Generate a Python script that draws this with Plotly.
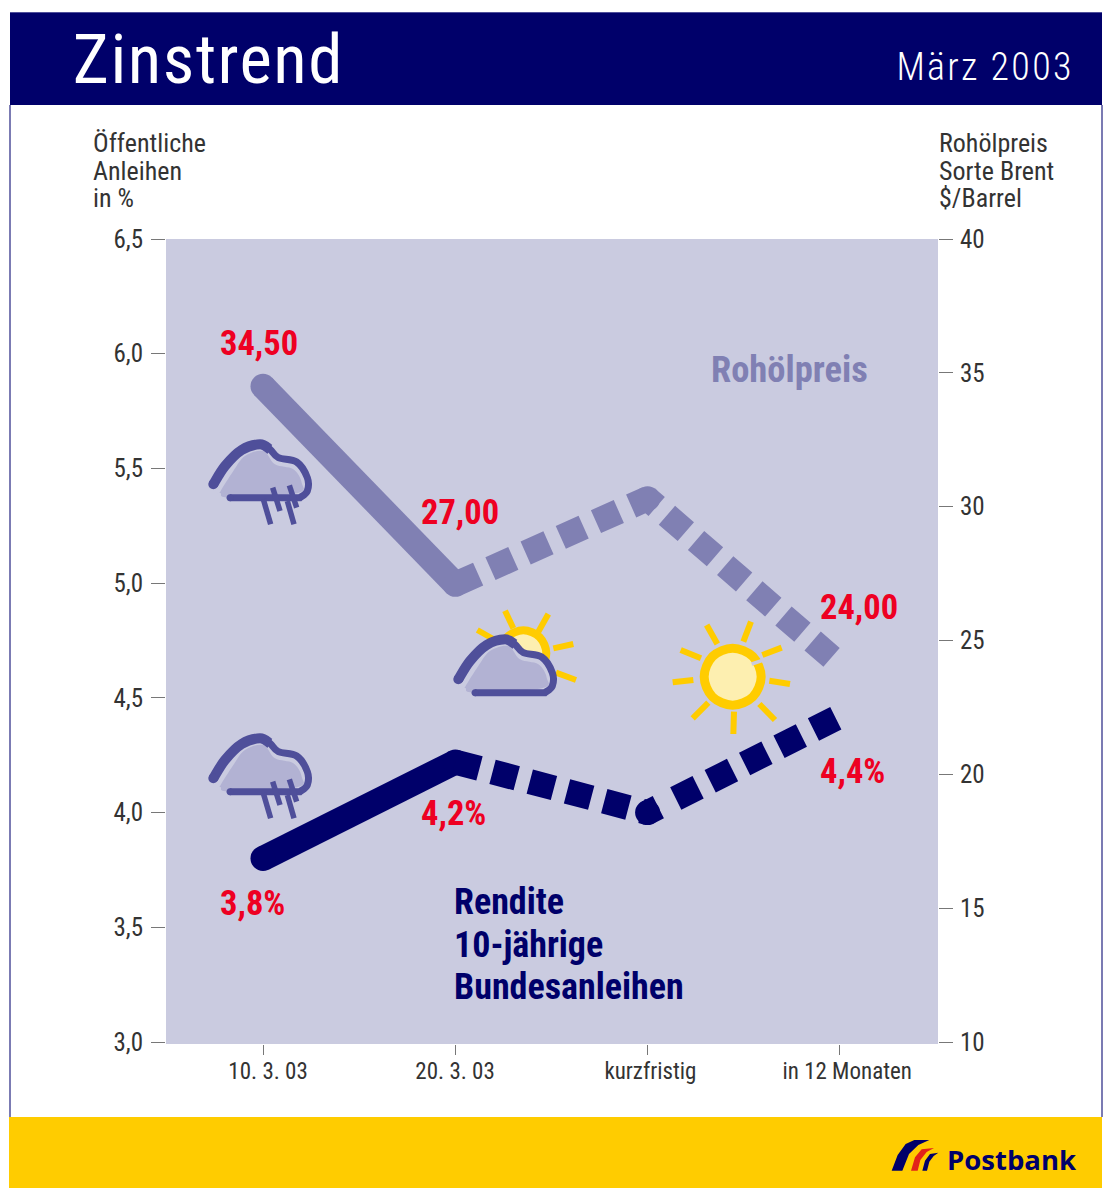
import plotly.graph_objects as go

# ---------- data ----------
categories = ["10. 3. 03", "20. 3. 03", "kurzfristig", "in 12 Monaten"]
category_pos = [0, 1, 2, 3]
yield_pct = [3.80, 4.22, 4.00, 4.42]
brent_usd = [34.5, 27.1, 30.3, 24.1]
yield_labels = ["3,8%", "4,2%", "4,4%"]
brent_labels = ["34,50", "27,00", "24,00"]
left_ticks = [3.0, 3.5, 4.0, 4.5, 5.0, 5.5, 6.0, 6.5]
right_ticks = [10, 15, 20, 25, 30, 35, 40]

# ---------- style ----------
W, H = 1115, 1200
L, R, T, B = 166, 938, 239, 1044
NAVY = "#00006a"
CRUDE = "#8080b3"
BG = "#cacbe0"
YEL = "#ffcc00"
PALE = "#fdefb0"
ICON = "#4f4f9a"
CLOUD = "#b2b2d3"
RED = "#ee0022"
TXT = "#333333"
FONT = "Roboto"
LW = 25


def px(x):
    return (x - L) / (R - L)


def py(y):
    return (B - y) / (B - T)


def smooth(points, close=False):
    """Catmull-Rom through pixel points -> SVG path in paper coordinates."""
    p = [(px(a), py(b)) for a, b in points]
    n = len(p)
    d = f"M{p[0][0]:.5f},{p[0][1]:.5f}"
    segs = n if close else n - 1
    for i in range(segs):
        p0 = p[(i - 1) % n] if (close or i > 0) else p[i]
        p1, p2 = p[i % n], p[(i + 1) % n]
        p3 = p[(i + 2) % n] if (close or i + 2 < n) else p2
        c1 = (p1[0] + (p2[0] - p0[0]) / 6, p1[1] + (p2[1] - p0[1]) / 6)
        c2 = (p2[0] - (p3[0] - p1[0]) / 6, p2[1] - (p3[1] - p1[1]) / 6)
        d += f" C{c1[0]:.5f},{c1[1]:.5f} {c2[0]:.5f},{c2[1]:.5f} {p2[0]:.5f},{p2[1]:.5f}"
    return d + (" Z" if close else "")


shapes = []


def rect(x0, y0, x1, y1, color):
    shapes.append(dict(type="rect", xref="paper", yref="paper", x0=px(x0), x1=px(x1),
                       y0=py(y0), y1=py(y1), fillcolor=color, line_width=0, layer="above"))


def seg(x0, y0, x1, y1, color, w):
    shapes.append(dict(type="line", xref="paper", yref="paper", x0=px(x0), x1=px(x1),
                       y0=py(y0), y1=py(y1), line=dict(color=color, width=w), layer="above"))


def dot(cx, cy, r, fill, line=None, w=0):
    shapes.append(dict(type="path", xref="paper", yref="paper", layer="above",
                       path=smooth([(cx + r, cy), (cx + r * .7071, cy + r * .7071), (cx, cy + r),
                                    (cx - r * .7071, cy + r * .7071), (cx - r, cy),
                                    (cx - r * .7071, cy - r * .7071), (cx, cy - r),
                                    (cx + r * .7071, cy - r * .7071)], close=True),
                       fillcolor=fill, line=dict(color=line or fill, width=w)))


def cloud(dx, dy, rain):
    t = lambda u, v: (200 + u / 3 + dx, 730 + v / 3 + dy)
    outline = [(40, 145), (75, 90), (125, 42), (180, 25), (210, 40), (235, 65), (290, 78),
               (322, 125), (322, 165), (300, 185), (90, 185)]
    body = [(62, 165), (100, 105), (135, 60), (190, 45), (225, 85), (280, 100), (305, 140),
            (290, 172), (90, 185), (62, 172)]
    shapes.append(dict(type="path", xref="paper", yref="paper", layer="above",
                       path=smooth([t(*q) for q in outline], close=True),
                       fillcolor=BG, line_width=0))
    shapes.append(dict(type="path", xref="paper", yref="paper", layer="above",
                       path=smooth([t(*q) for q in body], close=True),
                       fillcolor=CLOUD, line_width=0))
    shapes.append(dict(type="path", xref="paper", yref="paper", layer="above",
                       path=smooth([t(*q) for q in outline[:10]]) +
                       f" L{px(t(90, 185)[0]):.5f},{py(t(90, 185)[1]):.5f}",
                       line=dict(color=ICON, width=7)))
    shapes.append(dict(type="path", xref="paper", yref="paper", layer="above",
                       path=smooth([t(*q) for q in outline[:5]]),
                       line=dict(color=ICON, width=10)))
    dot(*t(40, 145), 5, ICON)
    dot(*t(90, 185), 3.5, ICON)
    if rain:
        for a, b, c, d in [(218, 155, 240, 225), (268, 148, 290, 215),
                           (190, 190, 212, 265), (262, 195, 282, 265)]:
            seg(*t(a, b), *t(c, d), ICON, 5.5)


# frame, header, footer
rect(10, 12, 1102, 105, NAVY)
seg(10, 105, 10, 1117, ICON, 1.5)
seg(1102, 105, 1102, 1117, ICON, 1.5)
seg(10, 12.5, 1102, 12.5, ICON, 1)
rect(9, 1117, 1102, 1188, YEL)

# icons
cloud(0, -294, True)
cloud(0, 0, True)

# small sun behind the third cloud
zs = lambda u, v: (190 + u / 3, 420 + v / 3)
for a, b, c, d in [(945, 572, 970, 625), (1075, 582, 1045, 635), (1150, 672, 1090, 685),
                   (1158, 780, 1098, 758), (862, 630, 915, 660)]:
    seg(*zs(a, b), *zs(c, d), YEL, 6)
dot(*zs(1000, 700), 23, PALE, YEL, 8)
cloud(245, -99, False)

# big sun
zb = lambda u, v: (640 + u / 3, 480 + v / 3)
for a, b, c, d in [(200, 435, 232, 492), (333, 425, 310, 485), (425, 503, 367, 525),
                   (450, 612, 388, 602), (405, 720, 358, 672), (280, 762, 282, 695),
                   (158, 715, 205, 668), (98, 607, 160, 600), (122, 510, 183, 535)]:
    seg(*zb(a, b), *zb(c, d), YEL, 6)
dot(*zb(278, 590), 28.5, PALE, YEL, 9)
seg(*zb(335, 552), *zb(372, 540), BG, 3.5)

# logo
zl = lambda u, v: (885 + u / 3, 1130 + v / 3)
for pts, col in [
    ([(20, 122), (38, 75), (62, 42), (88, 30), (133, 30), (100, 45), (72, 72), (52, 122)], NAVY),
    ([(78, 122), (90, 82), (110, 58), (147, 54), (125, 66), (106, 90), (98, 122)], "#e2231a"),
    ([(112, 122), (120, 92), (135, 72), (160, 68), (146, 78), (133, 95), (126, 122)], NAVY),
]:
    q = [(px(zl(*a)[0]), py(zl(*a)[1])) for a in pts]
    shapes.append(dict(type="path", xref="paper", yref="paper", layer="above",
                       path="M" + " L".join(f"{a:.5f},{b:.5f}" for a, b in q) + " Z",
                       fillcolor=col, line_width=0))

# ---------- traces ----------
fig = go.Figure()


def dash(lead=None, n=7):
    parts = list(lead or [])
    for _ in range(n):
        parts += [25, 13.5]
    return ",".join(f"{p}px" for p in parts)


def add_series(vals, color, yaxis, lead):
    fig.add_trace(go.Scatter(x=category_pos[:2], y=vals[:2], yaxis=yaxis, mode="lines+markers",
                             line=dict(color=color, width=LW),
                             marker=dict(color=color, size=LW, line_width=0), hoverinfo="skip"))
    fig.add_trace(go.Scatter(x=category_pos[1:3], y=vals[1:3], yaxis=yaxis, mode="lines",
                             line=dict(color=color, width=LW, dash=dash()), hoverinfo="skip"))
    fig.add_trace(go.Scatter(x=category_pos[2:3], y=vals[2:3], yaxis=yaxis, mode="markers",
                             marker=dict(color=color, size=LW, line_width=0), hoverinfo="skip"))
    fig.add_trace(go.Scatter(x=category_pos[2:4], y=vals[2:4], yaxis=yaxis, mode="lines",
                             line=dict(color=color, width=LW, dash=dash(lead, 6)),
                             hoverinfo="skip"))


add_series(brent_usd, CRUDE, "y2", [12, 13.5])
add_series(yield_pct, NAVY, "y", [12, 19.5])

# ---------- text ----------
ann = []


def text(s, x, y, size, color, anchor="left", bold=False, font=FONT, weight=None):
    f = dict(family=font, size=size, color=color)
    if weight:
        f["weight"] = weight
    ann.append(dict(xref="paper", yref="paper", x=px(x), y=py(y), text=f"<b>{s}</b>" if bold else s,
                    showarrow=False, xanchor=anchor, yanchor="middle", align=anchor,
                    borderpad=0, font=f))


text("Zinstrend", 208, 59, 69, "#ffffff", anchor="center")
text("März 2003", 985, 67, 38, "#ffffff", anchor="center", weight=300)
for i, s in enumerate(["Öffentliche", "Anleihen", "in %"]):
    text(s, 92, 143 + 27.5 * i, 26, TXT)
for i, s in enumerate(["Rohölpreis", "Sorte Brent", "$/Barrel"]):
    text(s, 938, 143 + 27.5 * i, 26, TXT)
text("Rohölpreis", 710, 369, 36.5, CRUDE, bold=True)
for i, s in enumerate(["Rendite", "10-jährige", "Bundesanleihen"]):
    text(s, 452.5, 902 + 42.5 * i, 36, NAVY, bold=True)
for s, x, y in zip(brent_labels, [219, 420, 819], [343, 512, 607]):
    text(s, x, y, 34.5, RED, bold=True)
for s, x, y in zip(yield_labels, [219, 420, 819], [903, 813, 771]):
    text(s, x, y, 34.5, RED, bold=True)
text("Postbank", 1012.5, 1159, 27.5, NAVY, anchor="center", bold=True, font="Open Sans")

# category labels sit a little right of their ticks in the original
for c, p, sh in zip(categories, category_pos, [5, 0, 3, 7]):
    ann.append(dict(xref="x", yref="paper", x=p, y=py(1071), text=c, showarrow=False,
                    xshift=sh, xanchor="center", yanchor="middle",
                    font=dict(family=FONT, size=23, color=TXT)))

fig.update_layout(
    width=W, height=H, autosize=False,
    margin=dict(l=L, r=W - R, t=T, b=H - B, pad=0),
    paper_bgcolor="#ffffff", plot_bgcolor=BG,
    showlegend=False, separators=",.", hovermode=False,
    font=dict(family=FONT, color=TXT),
    shapes=shapes, annotations=ann,
    xaxis=dict(range=[(L - 263) / 192.3, (R - 263) / 192.3], tickmode="array",
               tickvals=category_pos, showticklabels=False, ticks="outside", ticklen=10,
               tickwidth=1, tickcolor="#777777", showgrid=False, zeroline=False, showline=False),
    yaxis=dict(range=[3 - 2 / 229.4, 6.5], tickmode="array", tickvals=left_ticks, tickformat=".1f",
               ticks="outside", ticklen=14, tickwidth=1, tickcolor="#777777", showgrid=False,
               zeroline=False, showline=False, tickfont=dict(size=25, color=TXT, family=FONT),
               ticklabelstandoff=3),
    yaxis2=dict(range=[10 - 2 / 26.77, 40], overlaying="y", side="right", tickmode="array",
                tickvals=right_ticks, ticks="outside", ticklen=14, tickwidth=1, tickcolor="#777777",
                showgrid=False, zeroline=False, showline=False,
                tickfont=dict(size=25, color=TXT, family=FONT), ticklabelstandoff=2),
)

post = """
document.body.style.margin='0';document.body.style.overflow='hidden';
var st=document.createElement('style');
st.textContent='text[style*="Roboto"]{font-stretch:75%!important}';
document.head.appendChild(st);
var gd=document.getElementById('{plot_id}');
Plotly.redraw(gd).then(function(){
  gd.querySelectorAll('.annotation-text').forEach(function(t){
    if(t.textContent==='Zinstrend'){t.style.letterSpacing='1.5px';}
    if(t.textContent==='März 2003'){t.style.letterSpacing='2.3px';}
  });
});
"""
fig.write_html("out.html", config=dict(displayModeBar=False), post_script=post)
